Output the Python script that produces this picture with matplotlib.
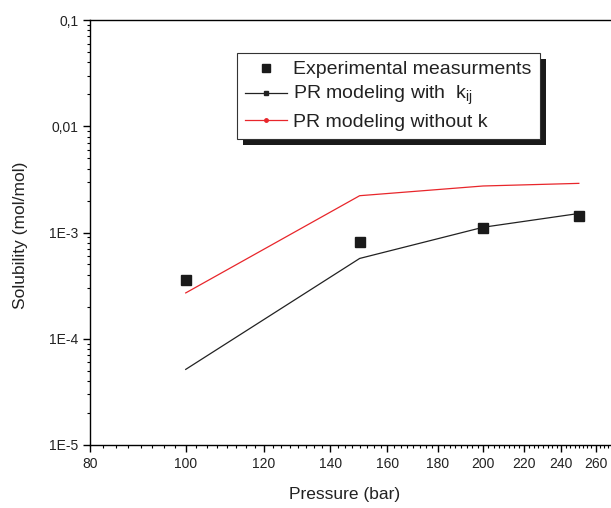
import matplotlib.pyplot as plt
import matplotlib.ticker as mticker
from matplotlib.lines import Line2D
from matplotlib.patches import Rectangle
import numpy as np

plt.rcParams['font.family'] = ['Liberation Sans', 'DejaVu Sans']
plt.rcParams['mathtext.fontset'] = 'custom'
plt.rcParams['mathtext.rm'] = 'Liberation Sans'
plt.rcParams['mathtext.it'] = 'Liberation Sans'

# data
pressure = [100, 150, 200, 250]
exp_sol = [3.57e-4, 8.2e-4, 1.11e-3, 1.44e-3]
pr_kij = [5.15e-5, 5.7e-4, 1.12e-3, 1.51e-3]
pr_nok = [2.7e-4, 2.22e-3, 2.74e-3, 2.9e-3]

xticks = [80, 100, 120, 140, 160, 180, 200, 220, 240, 260]
yticks = [1e-5, 1e-4, 1e-3, 1e-2, 1e-1]
ylabels = ['1E-5', '1E-4', '1E-3', '0,01', '0,1']

W, H = 611, 508
fig = plt.figure(figsize=(W / 100, H / 100), dpi=100)
ax = fig.add_axes([90 / W, (H - 445) / H, 525 / W, 425 / H])

ax.plot(pressure, pr_nok, color='#e8262b', lw=0.9)
ax.plot(pressure, pr_kij, color='#222222', lw=0.9)
ax.plot(pressure, exp_sol, ls='none', marker='s', ms=6.5, color='#1a1a1a')

ax.set_xscale('log')
ax.set_yscale('log')
ax.set_xlim(80, 80 * np.exp(525 / 429))
ax.set_ylim(1e-5, 1e-1)

ax.xaxis.set_major_locator(mticker.FixedLocator(xticks))
ax.xaxis.set_major_formatter(mticker.FixedFormatter([str(t) for t in xticks]))
ax.xaxis.set_minor_locator(mticker.MultipleLocator(2.5))
ax.xaxis.set_minor_formatter(mticker.NullFormatter())
ax.yaxis.set_major_locator(mticker.FixedLocator(yticks))
ax.yaxis.set_major_formatter(mticker.FixedFormatter(ylabels))
ax.yaxis.set_minor_locator(mticker.LogLocator(base=10, subs=np.arange(2, 10)))
ax.yaxis.set_minor_formatter(mticker.NullFormatter())

ax.tick_params(which='major', direction='out', length=5, width=1, labelsize=10,
               labelcolor='#222222')
ax.tick_params(which='minor', direction='out', length=2.5, width=0.8)
for s in ax.spines.values():
    s.set_linewidth(1)

ax.set_xlabel('Pressure (bar)', fontsize=12.5, color='#222222', va='center')
ax.set_ylabel('Solubility (mol/mol)', fontsize=12.5, color='#222222', va='center')
ax.xaxis.set_label_coords((345 - 90) / 525, (445 - 495) / 425)
ax.yaxis.set_label_coords((20 - 90) / 525, (445 - 235) / 425)

handles = [
    Line2D([], [], ls='none', marker='s', ms=6, color='#1a1a1a'),
    Line2D([], [], color='#222222', lw=0.9, marker='s', ms=2.5),
    Line2D([], [], color='#e8262b', lw=0.9, marker='o', ms=2.5),
]
labels = ['Experimental measurments',
          r'PR modeling with  k$_{\mathregular{ij}}$',
          'PR modeling without k']
leg = ax.legend(handles, labels, loc='upper left',
                bbox_to_anchor=(237 / W, 1 - 53 / H), bbox_transform=fig.transFigure,
                borderaxespad=0, fontsize=14, frameon=True, fancybox=False,
                framealpha=1, facecolor='white',
                edgecolor='#333333', handlelength=2.15, handletextpad=0.35,
                labelspacing=0.3, borderpad=0.4)
leg.get_frame().set_linewidth(0.8)
for t in leg.get_texts():
    t.set_color('#222222')

fig.canvas.draw()
bb = leg.get_window_extent()
ax.add_artist(Rectangle((bb.x0 + 6, bb.y0 - 6), bb.width, bb.height,
                        transform=None, facecolor='#1a1a1a', edgecolor='none',
                        zorder=4.9))

fig.savefig('out.png', dpi=100)
